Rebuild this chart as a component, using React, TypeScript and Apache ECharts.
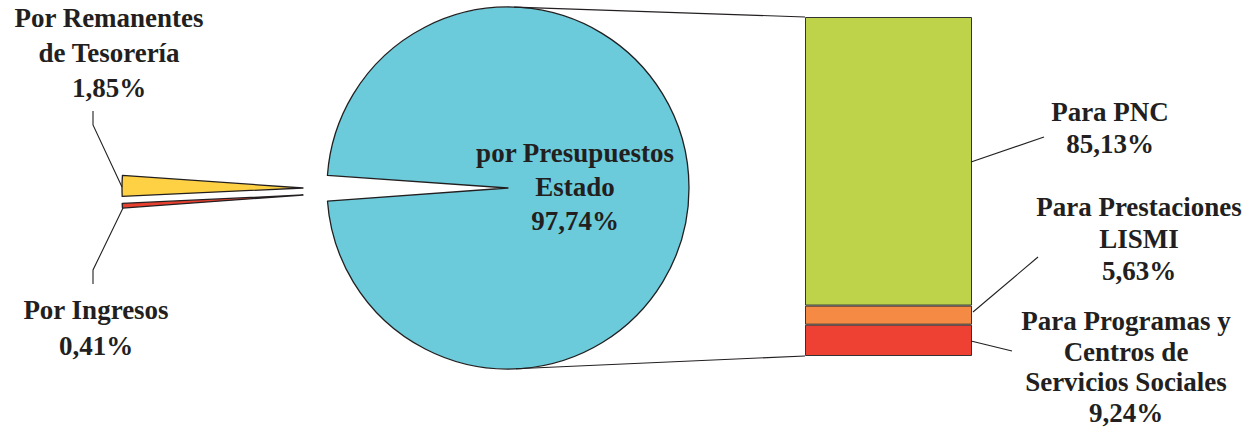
import React, { useEffect, useRef } from "react";
import * as echarts from "echarts";

// ---- data ----
const pieNames = ["por Presupuestos\nEstado", "Por Ingresos", "Por Remanentes\nde Tesorería"];
const pieValues = [97.74, 0.41, 1.85];
const pieColors = ["#6BCBDB", "#E8402F", "#FDD143"];

const barNames = ["Para Programas y\nCentros de\nServicios Sociales", "Para Prestaciones\nLISMI", "Para PNC"];
const barValues = [9.24, 5.63, 85.13];
const barColors = ["#EE4133", "#F58A45", "#BED24A"];

const fmt = (v: number) => v.toFixed(2).replace(".", ",") + "%";

// ---- layout ----
const INK = "#231F20";
const FONT = "'Liberation Serif', 'Times New Roman', serif";
const FS = 27;
const PIE_C = [508, 188];
const PIE_R = 181;
const START = 176;
const SMALL_C = [
  null,
  [303, 195], // red
  [303, 188], // yellow
];
const GRID = { left: 805, top: 17, width: 167, height: 339 };

function tangent(px: number, py: number, upper: boolean) {
  const dx = px - PIE_C[0];
  const dy = py - PIE_C[1];
  const L = Math.hypot(dx, dy);
  const th = Math.atan2(dy, dx);
  const a = Math.acos(PIE_R / L);
  const ang = upper ? th - a : th + a;
  return [PIE_C[0] + PIE_R * Math.cos(ang), PIE_C[1] + PIE_R * Math.sin(ang)];
}

function label(text: string, x: number, firstBaseline: number, lh: number) {
  return {
    type: "text",
    x,
    y: firstBaseline - lh / 2 - 9,
    z: 100,
    silent: true,
    style: {
      text,
      fill: INK,
      font: `bold ${FS}px ${FONT}`,
      align: "center",
      verticalAlign: "top",
      lineHeight: lh,
    },
  };
}

function line(points: number[][]) {
  return {
    type: "polyline",
    silent: true,
    z: 100,
    shape: { points },
    style: { stroke: INK, lineWidth: 1.1, fill: "none" },
  };
}

export default function App() {
  const ref = useRef<HTMLDivElement>(null);
  useEffect(() => {
    if (!ref.current) return;
    const chart = echarts.init(ref.current, null, { renderer: "svg" });

    const pieData = (visibleIdx: number) =>
      pieValues.map((v, i) => ({
        name: pieNames[i],
        value: v,
        itemStyle:
          i === visibleIdx
            ? { color: pieColors[i], borderColor: INK, borderWidth: 1.3 }
            : { color: "rgba(0,0,0,0)", borderWidth: 0 },
      }));

    const pieSeries: any[] = [
      {
        type: "pie",
        center: PIE_C,
        radius: PIE_R,
        startAngle: START,
        clockwise: true,
        silent: true,
        label: { show: false },
        labelLine: { show: false },
        emphasis: { disabled: true },
        data: pieData(0),
      },
      ...[1, 2].map((idx) => ({
        type: "pie",
        center: SMALL_C[idx],
        radius: PIE_R,
        startAngle: START,
        clockwise: true,
        silent: true,
        label: { show: false },
        labelLine: { show: false },
        emphasis: { disabled: true },
        data: pieData(idx),
      })),
    ];

    const barSeries = barValues.map((v, i) => ({
      type: "bar",
      name: barNames[i],
      stack: "total",
      barWidth: "100%",
      silent: true,
      data: [v],
      itemStyle: { color: barColors[i], borderColor: "#333333", borderWidth: 1 },
    }));

    const barLeft = GRID.left;
    const barTop = GRID.top;
    const barBottom = GRID.top + GRID.height;
    const tTop = tangent(barLeft, barTop, true);
    const tBot = tangent(barLeft, barBottom, false);

    chart.setOption({
      animation: false,
      grid: { ...GRID, containLabel: false },
      xAxis: { type: "category", data: ["total"], show: false },
      yAxis: { type: "value", min: 0, max: 100, show: false },
      series: [...pieSeries, ...barSeries],
      graphic: [
        line([tTop, [barLeft, barTop]]),
        line([tBot, [barLeft, barBottom]]),
        // pie leader lines
        line([[122, 187], [93, 125], [93, 111]]),
        line([[123, 208], [93, 270], [93, 284]]),
        // bar leader lines
        line([[971, 162], [1044, 137]]),
        line([[973, 312], [1038, 257]]),
        line([[971, 341], [1012, 351]]),
        // labels
        label(`${pieNames[2]}\n${fmt(pieValues[2])}`, 109, 27, 35),
        label(`${pieNames[1]}\n${fmt(pieValues[1])}`, 96, 319, 36),
        label(`${pieNames[0]}\n${fmt(pieValues[0])}`, 575, 162, 34),
        label(`${barNames[2]}\n${fmt(barValues[2])}`, 1110, 121, 32),
        label(`${barNames[1]}\n${fmt(barValues[1])}`, 1139, 216, 32),
        label(`${barNames[0]}\n${fmt(barValues[0])}`, 1126, 330, 30.5),
      ],
    });
    return () => chart.dispose();
  }, []);
  return (
    <div
      ref={ref}
      style={{ position: "fixed", left: 0, top: 0, width: 1257, height: 430, background: "#fff" }}
    />
  );
}
